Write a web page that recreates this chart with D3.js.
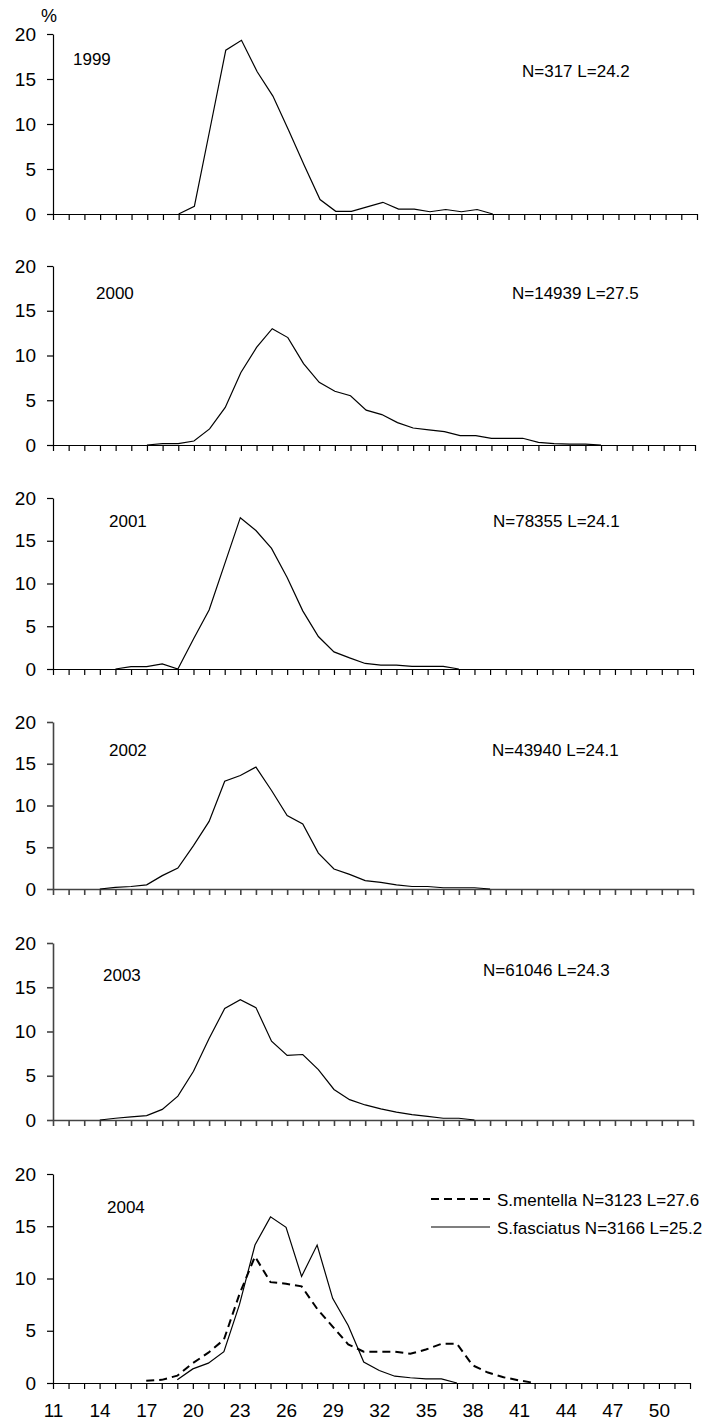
<!DOCTYPE html>
<html>
<head>
<meta charset="utf-8">
<script src="https://cdn.jsdelivr.net/npm/d3@7/dist/d3.min.js"></script>
<style>
  body { margin: 0; background: #fff; }
  text { font-family: "Liberation Sans", Arial, sans-serif; fill: #000; }
</style>
</head>
<body>
<div id="chart"></div>
<script>
// length classes (cm) and the labels shown under the last panel
var lengths = d3.range(11, 53);
var lengthLabels = [11, 14, 17, 20, 23, 26, 29, 32, 35, 38, 41, 44, 47, 50];
var pctTicks = [0, 5, 10, 15, 20];

var years = ["1999", "2000", "2001", "2002", "2003", "2004"];
var notes = ["N=317 L=24.2", "N=14939 L=27.5", "N=78355 L=24.1", "N=43940 L=24.1", "N=61046 L=24.3"];
var legendLabels = ["S.mentella N=3123 L=27.6", "S.fasciatus N=3166 L=25.2"];

// % by length class, first value belongs to the start length
var start1999 = 19;
var pct1999 = [0, 0.85, 9.5, 18.2, 19.3, 15.8, 13.1, 9.3, 5.4, 1.6, 0.3, 0.3, 0.8, 1.3, 0.55, 0.55, 0.25, 0.5, 0.25, 0.5, 0];
var start2000 = 17;
var pct2000 = [0, 0.15, 0.15, 0.45, 1.8, 4.2, 8.1, 10.9, 13.0, 12.0, 9.1, 7.0, 6.0, 5.5, 3.9, 3.4, 2.5, 1.9, 1.7, 1.5, 1.05, 1.05, 0.75, 0.75, 0.75, 0.3, 0.15, 0.1, 0.1, 0];
var start2001 = 15;
var pct2001 = [0, 0.27, 0.27, 0.6, 0, 3.5, 6.9, 12.3, 17.7, 16.2, 14.1, 10.7, 6.8, 3.8, 2.0, 1.3, 0.65, 0.45, 0.45, 0.3, 0.3, 0.3, 0];
var start2002 = 14;
var pct2002 = [0, 0.2, 0.3, 0.5, 1.6, 2.5, 5.2, 8.1, 12.9, 13.6, 14.6, 11.8, 8.8, 7.8, 4.3, 2.4, 1.75, 1.0, 0.8, 0.5, 0.3, 0.3, 0.15, 0.15, 0.15, 0];
var start2003 = 14;
var pct2003 = [0, 0.2, 0.35, 0.5, 1.2, 2.7, 5.5, 9.2, 12.6, 13.6, 12.7, 8.9, 7.3, 7.4, 5.7, 3.45, 2.3, 1.7, 1.25, 0.9, 0.6, 0.4, 0.2, 0.2, 0];
var startMentella = 17;
var pctMentella = [0.22, 0.3, 0.7, 1.9, 2.9, 4.15, 8.5, 12.1, 9.65, 9.5, 9.25, 7.1, 5.4, 3.7, 3.0, 3.0, 3.0, 2.8, 3.2, 3.75, 3.75, 1.7, 1.0, 0.55, 0.25, 0];
var startFasciatus = 19;
var pctFasciatus = [0.3, 1.35, 1.9, 3.0, 7.5, 13.2, 15.9, 14.9, 10.2, 13.2, 8.1, 5.5, 2.0, 1.2, 0.65, 0.5, 0.4, 0.4, 0];

function toPoints(start, values) {
  return values.map(function (v, i) { return { len: start + i, pct: v }; });
}

var series = [
  [{ points: toPoints(start1999, pct1999) }],
  [{ points: toPoints(start2000, pct2000) }],
  [{ points: toPoints(start2001, pct2001) }],
  [{ points: toPoints(start2002, pct2002) }],
  [{ points: toPoints(start2003, pct2003) }],
  [{ points: toPoints(startMentella, pctMentella), dashed: true },
   { points: toPoints(startFasciatus, pctFasciatus) }]
];

// panel frames (pixel boxes of each small chart)
var frames = [
  { top: 34,   bottom: 214,  left: 53, right: 697, yearX: 73,  yearDy: 31, noteX: 522, noteDy: 43, axis: "#000" },
  { top: 266,  bottom: 445,  left: 53, right: 695, yearX: 96,  yearDy: 33, noteX: 512, noteDy: 33, axis: "#000" },
  { top: 498,  bottom: 669,  left: 53, right: 693, yearX: 109, yearDy: 29, noteX: 493, noteDy: 29, axis: "#000" },
  { top: 722,  bottom: 889,  left: 53, right: 693, yearX: 109, yearDy: 34, noteX: 492, noteDy: 34, axis: "#444" },
  { top: 943,  bottom: 1120, left: 53, right: 693, yearX: 103, yearDy: 38, noteX: 483, noteDy: 33, axis: "#444" },
  { top: 1174, bottom: 1383, left: 53, right: 690, yearX: 107, yearDy: 39, axis: "#000" }
];

var svg = d3.select("#chart").append("svg")
  .attr("width", 717)
  .attr("height", 1427);

frames.forEach(function (f, i) {
  var x = d3.scaleLinear().domain([11, 52]).range([f.left, f.right]);
  var y = d3.scaleLinear().domain([0, 20]).range([f.bottom, f.top]);
  var g = svg.append("g");
  var last = i === frames.length - 1;

  var yAxis = g.append("g")
    .attr("transform", "translate(" + f.left + ",0)")
    .call(d3.axisLeft(y).tickValues(pctTicks).tickSize(6).tickSizeOuter(0).tickPadding(11));
  yAxis.selectAll("text").style("font-size", "19px");

  var xAxis = g.append("g")
    .attr("transform", "translate(0," + f.bottom + ")")
    .call(d3.axisBottom(x).tickValues(lengths).tickSize(6).tickSizeOuter(0).tickPadding(15)
      .tickFormat(function (d) { return last && lengthLabels.indexOf(d) >= 0 ? d : ""; }));
  xAxis.selectAll("text").style("font-size", "19px");

  g.selectAll(".domain, .tick line")
    .attr("stroke", f.axis)
    .attr("stroke-width", f.axis === "#000" ? 1.2 : 1.6);

  var line = d3.line()
    .x(function (d) { return x(d.len); })
    .y(function (d) { return y(d.pct); });

  g.selectAll("path.series")
    .data(series[i])
    .enter().append("path")
    .attr("class", "series")
    .attr("d", function (d) { return line(d.points); })
    .attr("fill", "none")
    .attr("stroke", "#000")
    .attr("stroke-width", function (d) { return d.dashed ? 2 : 1.2; })
    .attr("stroke-dasharray", function (d) { return d.dashed ? "8,5" : null; });

  g.append("text")
    .attr("x", f.yearX)
    .attr("y", f.top + f.yearDy)
    .style("font-size", "17px")
    .text(years[i]);

  if (notes[i]) {
    g.append("text")
      .attr("x", f.noteX)
      .attr("y", f.top + f.noteDy)
      .style("font-size", "17px")
      .text(notes[i]);
  }

  if (i === 0) {
    g.append("text")
      .attr("x", f.left - 4)
      .attr("y", 22)
      .attr("text-anchor", "middle")
      .style("font-size", "18px")
      .text("%");
  }

  if (last) {
    var legend = g.append("g");
    legendLabels.forEach(function (lab, k) {
      var ly = 1199 + k * 28;
      legend.append("line")
        .attr("x1", 431).attr("x2", 490)
        .attr("y1", ly).attr("y2", ly)
        .attr("stroke", "#000")
        .attr("stroke-width", k === 0 ? 2 : 1.2)
        .attr("stroke-dasharray", k === 0 ? "8,5" : null);
      legend.append("text")
        .attr("x", 497)
        .attr("y", ly + 7)
        .style("font-size", "17px")
        .text(lab);
    });
  }
});
</script>
</body>
</html>
